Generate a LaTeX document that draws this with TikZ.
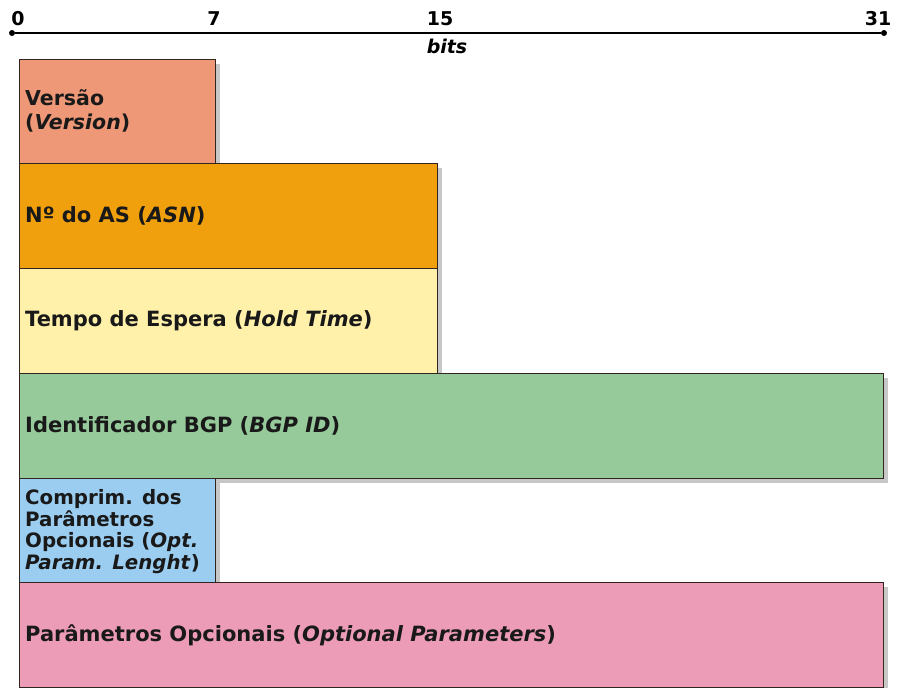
\documentclass[tikz,border=0pt]{standalone}
\usepackage{fontspec}
\setmainfont{DejaVu Sans}
\usetikzlibrary{shadows}
\definecolor{cVer}{RGB}{238,152,120}
\definecolor{cAsn}{RGB}{240,160,12}
\definecolor{cHold}{RGB}{255,240,170}
\definecolor{cId}{RGB}{150,202,155}
\definecolor{cLen}{RGB}{155,205,240}
\definecolor{cOpt}{RGB}{236,156,182}
\definecolor{edge}{RGB}{50,36,30}
\tikzset{
  field/.style={draw=edge, line width=1.3pt, anchor=north west, rectangle,
    inner sep=0pt,
    drop shadow={shadow xshift=4pt, shadow yshift=-4pt, fill=black, opacity=0.22}},
  flabel/.style={anchor=west, inner sep=0pt, align=left, text=black!90,
    font=\fontsize{21}{24}\selectfont\bfseries},
  tick/.style={font=\fontsize{19}{21}\selectfont\bfseries, anchor=base},
  enddot/.style={circle, fill=black, inner sep=0pt, minimum size=6pt}
}
\begin{document}
\begin{tikzpicture}[x=1pt, y=-1pt]
\useasboundingbox (0,0) rectangle (908,688);
% bit scale
\node[enddot] (s0) at (12,33) {};
\node[enddot] (s31) at (884,33) {};
\draw[line width=1.8pt] (s0) -- (s31);
\node[tick] (t0) at (18,25) {0};
\node[tick] (t7) at (214,25) {7};
\node[tick] (t15) at (440,25) {15};
\node[tick] (t31) at (878,25) {31};
\node[tick] (bits) at (447,53) {\itshape bits};
% header fields
\node[field, fill=cVer, minimum width=196pt, minimum height=104pt] (ver) at (19,59) {};
\node[field, fill=cAsn, minimum width=418pt, minimum height=105pt] (asn) at (19,163) {};
\node[field, fill=cHold, minimum width=418pt, minimum height=105pt] (hold) at (19,268) {};
\node[field, fill=cId, minimum width=864pt, minimum height=105pt] (bgpid) at (19,373) {};
\node[field, fill=cLen, minimum width=196pt, minimum height=104pt] (optlen) at (19,478) {};
\node[field, fill=cOpt, minimum width=864pt, minimum height=105pt] (opt) at (19,582) {};
% field names
\node[flabel, font=\fontsize{20.5}{24}\selectfont\bfseries] (verT) at ([xshift=6pt,yshift=1pt]ver.west)
  {Versão\\(\textit{Version})};
\node[flabel] (asnT) at ([xshift=6pt]asn.west) {Nº do AS (\textit{ASN})};
\node[flabel] (holdT) at ([xshift=6pt]hold.west) {Tempo de Espera (\textit{Hold Time})};
\node[flabel] (bgpidT) at ([xshift=6pt]bgpid.west) {Identificador BGP (\textit{BGP ID})};
\node[flabel, font=\fontsize{19.8}{21.7}\selectfont\bfseries] (optlenT) at ([xshift=6pt,yshift=-1pt]optlen.west)
  {Comprim. dos\\Parâmetros\\Opcionais (\textit{Opt.}\\\textit{Param. Lenght})};
\node[flabel] (optT) at ([xshift=6pt]opt.west) {Parâmetros Opcionais (\textit{Optional Parameters})};
\end{tikzpicture}
\end{document}
